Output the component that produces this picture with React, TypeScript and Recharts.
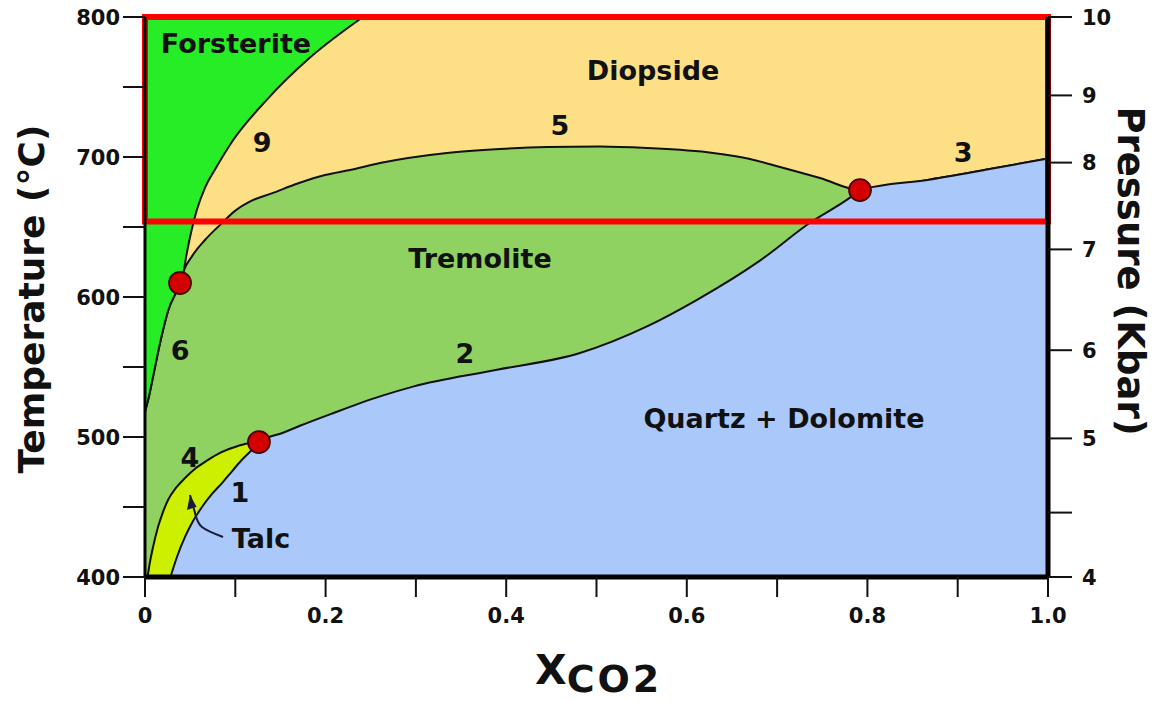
import React from 'react';
import { ComposedChart, Area, Line, Scatter, XAxis, YAxis } from 'recharts';

// ---------- axis ticks ----------
const xTicks = [0, 0.1, 0.2, 0.3, 0.4, 0.5, 0.6, 0.7, 0.8, 0.9, 1.0];
const xTickLabels = ['0', '', '0.2', '', '0.4', '', '0.6', '', '0.8', '', '1.0'];
const tempTicks = [400, 450, 500, 550, 600, 650, 700, 750, 800];
const tempTickLabels = ['400', '', '500', '', '600', '', '700', '', '800'];
// pressure ticks placed at their equivalent temperature on the shared scale
const pressureTickTemps = [400, 446, 499, 562, 634, 696, 744, 800];
const pressureTickLabels = ['4', '', '5', '6', '7', '8', '9', '10'];

// ---------- reaction curves (x = XCO2, t = °C) ----------
const curve6 = [
  { x: 0, t: 518 }, { x: 0.0033, t: 526 }, { x: 0.0089, t: 543 }, { x: 0.0166, t: 567 },
  { x: 0.0255, t: 590 }, { x: 0.0388, t: 610 },
];
const curve9 = [
  { x: 0.0388, t: 610 }, { x: 0.0424, t: 617 }, { x: 0.0462, t: 631 }, { x: 0.0517, t: 648 },
  { x: 0.0573, t: 662 }, { x: 0.0664, t: 678 }, { x: 0.0775, t: 691 }, { x: 0.0975, t: 712 },
  { x: 0.1351, t: 741 }, { x: 0.1827, t: 771 }, { x: 0.2414, t: 800 },
];
const curve5 = [
  { x: 0.0388, t: 610 }, { x: 0.0424, t: 618 }, { x: 0.0517, t: 628.8 }, { x: 0.0664, t: 640.7 },
  { x: 0.0849, t: 652.6 }, { x: 0.0997, t: 661.5 }, { x: 0.1182, t: 668.8 }, { x: 0.1403, t: 674 },
  { x: 0.1698, t: 681.2 }, { x: 0.1993, t: 687.1 }, { x: 0.227, t: 690.7 }, { x: 0.2602, t: 695.7 },
  { x: 0.3344, t: 702.9 }, { x: 0.3931, t: 705.7 }, { x: 0.4452, t: 707.1 }, { x: 0.5039, t: 707.5 },
  { x: 0.5559, t: 706.4 }, { x: 0.629, t: 702.9 }, { x: 0.67, t: 698.6 }, { x: 0.7032, t: 692.9 },
  { x: 0.7475, t: 685 }, { x: 0.7918, t: 676.4 },
];
const curve3 = [
  { x: 0.7918, t: 676.4 }, { x: 0.87, t: 684 }, { x: 0.9324, t: 691 }, { x: 1.0, t: 699 },
];
const curve2 = [
  { x: 0.1262, t: 496.4 }, { x: 0.1528, t: 503 }, { x: 0.1716, t: 508 }, { x: 0.2082, t: 517 },
  { x: 0.2602, t: 529 }, { x: 0.2968, t: 536 }, { x: 0.3898, t: 548 }, { x: 0.4817, t: 560 },
  { x: 0.5559, t: 579 }, { x: 0.6113, t: 598 }, { x: 0.681, t: 626 }, { x: 0.7364, t: 653 },
  { x: 0.7807, t: 671 }, { x: 0.7918, t: 676.4 },
];
const curve4 = [
  { x: 0.0028, t: 400 }, { x: 0.0055, t: 410.7 }, { x: 0.0089, t: 421.4 }, { x: 0.0144, t: 435.7 },
  { x: 0.0199, t: 446.4 }, { x: 0.0255, t: 455 }, { x: 0.0343, t: 463.6 }, { x: 0.0443, t: 470.7 },
  { x: 0.0565, t: 477.9 }, { x: 0.0698, t: 483.6 }, { x: 0.0831, t: 488.6 }, { x: 0.0963, t: 492.1 },
  { x: 0.1107, t: 495 }, { x: 0.1262, t: 496.4 },
];
const curve1 = [
  { x: 0.0282, t: 400 }, { x: 0.0354, t: 414.3 }, { x: 0.0443, t: 428.6 }, { x: 0.0532, t: 440 },
  { x: 0.0631, t: 450 }, { x: 0.0742, t: 459.3 }, { x: 0.0853, t: 467.1 }, { x: 0.0963, t: 475.5 },
  { x: 0.1071, t: 483.6 }, { x: 0.1182, t: 490.7 }, { x: 0.1262, t: 496.4 },
];

// invariant points
const invariantPoints = [
  { x: 0.0388, t: 610 }, { x: 0.1262, t: 496.4 }, { x: 0.7918, t: 676.4 },
];

// field and reaction labels
const fieldLabels = [
  { x: 0.1008, t: 781, text: 'Forsterite' },
  { x: 0.5626, t: 762, text: 'Diopside' },
  { x: 0.371, t: 628, text: 'Tremolite' },
  { x: 0.7076, t: 513.6, text: 'Quartz + Dolomite' },
  { x: 0.1285, t: 428, text: 'Talc' },
  { x: 0.1296, t: 710.7, text: '9' },
  { x: 0.4596, t: 722.9, text: '5' },
  { x: 0.9059, t: 703.6, text: '3' },
  { x: 0.0388, t: 562.1, text: '6' },
  { x: 0.0498, t: 485.7, text: '4' },
  { x: 0.1052, t: 460.7, text: '1' },
  { x: 0.3544, t: 560, text: '2' },
];

// talc pointer arrow
const talcArrow = [
  { x: 0.0498, t: 458.6 }, { x: 0.0554, t: 445.7 }, { x: 0.0631, t: 435.7 }, { x: 0.0864, t: 428.6 },
];
const talcArrowTip = [{ x: 0.0498, t: 458.6 }];

// highlighted box
const highlightBox = [
  { x: 0, t: 654 }, { x: 1, t: 654 }, { x: 1, t: 800 }, { x: 0, t: 800 }, { x: 0, t: 654 },
];

const diopsideField = [{ x: 0, t: 800 }, { x: 1, t: 800 }];
const tremoliteUpper = [...curve6, ...curve5.slice(1), ...curve3.slice(1)];
const quartzDolomiteUpper = [...curve1, ...curve2.slice(1), ...curve3.slice(1)];
const forsteriteLower = [...curve6, ...curve9.slice(1)];

const FONT = '"DejaVu Sans", sans-serif';
const INK = '#111';

const LeftTick = (props: any) => {
  const { x, y, payload } = props;
  const i = tempTicks.indexOf(payload.value);
  return (
    <text x={x} y={y} dy="0.36em" textAnchor="end" fontFamily={FONT} fontWeight="bold" fontSize={21} fill="#111">
      {i >= 0 ? tempTickLabels[i] : ''}
    </text>
  );
};

const RightTick = (props: any) => {
  const { x, y, payload } = props;
  let i = -1;
  pressureTickTemps.forEach((v, k) => { if (Math.abs(v - payload.value) < 0.01) i = k; });
  return (
    <text x={x} y={y} dy="0.36em" textAnchor="start" fontFamily={FONT} fontWeight="bold" fontSize={21} fill="#111">
      {i >= 0 ? pressureTickLabels[i] : ''}
    </text>
  );
};

const BottomTick = (props: any) => {
  const { x, y, payload } = props;
  let i = -1;
  xTicks.forEach((v, k) => { if (Math.abs(v - payload.value) < 1e-6) i = k; });
  return (
    <text x={x} y={y} dy="0.75em" textAnchor="middle" fontFamily={FONT} fontWeight="bold" fontSize={21} fill="#111">
      {i >= 0 ? xTickLabels[i] : ''}
    </text>
  );
};

const LabelShape = (props: any) => {
  const { cx, cy, payload } = props;
  return (
    <text x={cx} y={cy} dy="0.36em" textAnchor="middle" fontFamily={FONT} fontWeight="bold"
      fontSize={27} fill={INK}>
      {payload.text}
    </text>
  );
};

const DotShape = (props: any) => {
  const { cx, cy } = props;
  return <circle cx={cx} cy={cy} r={11} fill="#d40000" stroke="#4a0000" strokeWidth={1.8} />;
};

const ArrowHead = (props: any) => {
  const { cx, cy } = props;
  return (
    <polygon
      points={`${cx},${cy} ${cx - 6},${cy + 14} ${cx + 4},${cy + 13}`}
      fill="#1a1a40"
      transform={`rotate(-12 ${cx} ${cy})`}
    />
  );
};

export default function App() {
  return (
    <div style={{ position: 'absolute', left: 0, top: 0, width: 1159, height: 702, background: '#fff' }}>
      <ComposedChart width={1159} height={702} margin={{ top: 17, right: 0, bottom: 65, left: 0 }}>
        <XAxis
          type="number" dataKey="x" domain={[0, 1]} ticks={xTicks} interval={0}
          height={60} tickSize={20} tickMargin={10}
          axisLine={{ stroke: '#000', strokeWidth: 5 }} tickLine={{ stroke: '#111', strokeWidth: 2 }}
          tick={<BottomTick />}
        />
        <YAxis
          yAxisId="t" type="number" dataKey="t" domain={[400, 800]} ticks={tempTicks} interval={0}
          width={145} tickSize={22} tickMargin={3}
          axisLine={{ stroke: '#000', strokeWidth: 3 }} tickLine={{ stroke: '#111', strokeWidth: 2 }}
          tick={<LeftTick />}
        />
        <YAxis
          yAxisId="p" orientation="right" type="number" domain={[400, 800]} ticks={pressureTickTemps} interval={0}
          width={111} tickSize={24} tickMargin={10}
          axisLine={{ stroke: '#000', strokeWidth: 5 }} tickLine={{ stroke: '#111', strokeWidth: 2 }}
          tick={<RightTick />}
        />

        <Area yAxisId="t" data={diopsideField} dataKey="t" type="linear" baseValue={400}
          fill="#fde085" fillOpacity={1} stroke="none" isAnimationActive={false} />
        <Area yAxisId="t" data={tremoliteUpper} dataKey="t" type="monotone" baseValue={400}
          fill="#8fd262" fillOpacity={1} stroke={INK} strokeWidth={2} isAnimationActive={false} />
        <Area yAxisId="t" data={curve4} dataKey="t" type="monotone" baseValue={400}
          fill="#ccf000" fillOpacity={1} stroke={INK} strokeWidth={2} isAnimationActive={false} />
        <Area yAxisId="t" data={quartzDolomiteUpper} dataKey="t" type="monotone" baseValue={400}
          fill="#aac9fa" fillOpacity={1} stroke={INK} strokeWidth={2} isAnimationActive={false} />
        <Area yAxisId="t" data={forsteriteLower} dataKey="t" type="monotone" baseValue={800}
          fill="#27ed27" fillOpacity={1} stroke={INK} strokeWidth={2} isAnimationActive={false} />
        <Line yAxisId="p" data={diopsideField} dataKey="t" stroke="none" dot={false} isAnimationActive={false} />

        <Line yAxisId="t" data={talcArrow} dataKey="t" type="natural" stroke="#1a1a40" strokeWidth={2}
          dot={false} isAnimationActive={false} />
        <Scatter yAxisId="t" data={talcArrowTip} dataKey="t" shape={<ArrowHead />} isAnimationActive={false} />

        <Scatter yAxisId="t" data={fieldLabels} dataKey="t" shape={<LabelShape />} isAnimationActive={false} />

        <Line yAxisId="t" data={highlightBox} dataKey="t" type="linear" stroke="#ff0000" strokeWidth={6}
          strokeLinejoin="miter" strokeLinecap="square" dot={false} isAnimationActive={false} />

        <Scatter yAxisId="t" data={invariantPoints} dataKey="t" shape={<DotShape />} isAnimationActive={false} />
      </ComposedChart>
      <svg width={1159} height={702} style={{ position: 'absolute', left: 0, top: 0, pointerEvents: 'none' }}>
        <text transform="translate(44 299) rotate(-90)" textAnchor="middle" fontFamily={FONT}
          fontWeight="bold" fontSize={36} fill="#111">Temperature (°C)</text>
        <text transform="translate(1118 271) rotate(90)" textAnchor="middle" fontFamily={FONT}
          fontWeight="bold" fontSize={37} fill="#111">Pressure (Kbar)</text>
        <text x={535} y={684} fontFamily={FONT} fontWeight="bold" fontSize={41} fill="#111">
          X<tspan dy={8} fontSize={38} letterSpacing={3}>CO2</tspan>
        </text>
      </svg>
    </div>
  );
}
